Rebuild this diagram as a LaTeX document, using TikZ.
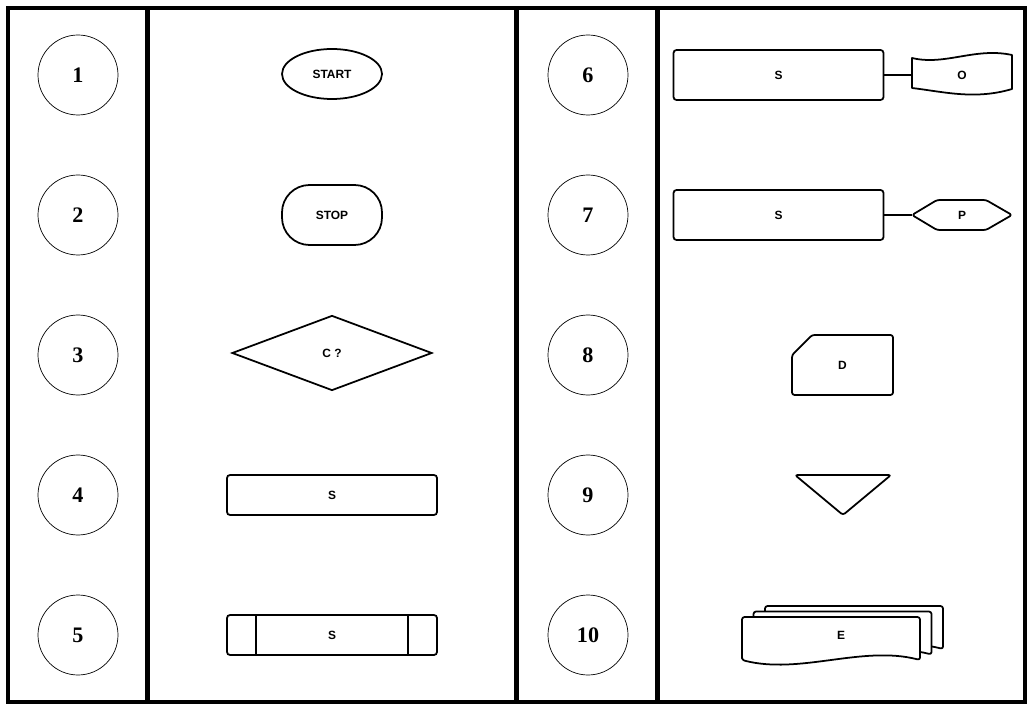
\documentclass[tikz,border=0pt]{standalone}
\usepackage{fontspec}
\setmainfont{Liberation Serif}
\newfontfamily\lblfont{Liberation Sans}
\usetikzlibrary{shapes.geometric}

\begin{document}
\begin{tikzpicture}[x=0.2mm,y=-0.2mm,
      frame/.style={line width=0.85mm},
      num/.style={circle,draw,line width=0.4pt,minimum size=16mm,inner sep=0pt,font=\fontsize{12.6}{14}\selectfont\bfseries},
      lbl/.style={inner sep=0pt,font=\lblfont\fontsize{6.8}{8}\selectfont\bfseries},
      sym/.style={lbl,draw,line width=1pt},
      outline/.style={line width=1pt,rounded corners=0.5mm,line join=round},
      proc/.style={sym,rectangle,rounded corners=0.6mm,minimum width=42mm,minimum height=8mm},
      link/.style={line width=0.8pt}
    ]
      \useasboundingbox (0,0) rectangle (1035,713);
      \draw[frame] (8,8) rectangle (1025,702);
      \foreach \x in {147.5,516.5,657.5}
        \draw[frame] (\x,8) -- (\x,702);
      \foreach \n/\y in {1/75,2/215,3/355,4/495,5/635}
        \node[num] (num\n) at (78,\y) {\n};
      \foreach \n/\y in {6/75,7/215,8/355,9/495,10/635}
        \node[num] (num\n) at (588,\y) {\n};
      % left column of symbols
      \node[sym,ellipse,minimum width=20mm,minimum height=10mm] (start) at (332,74) {START};
      \node[sym,rectangle,rounded corners=5.5mm,minimum width=20mm,minimum height=12mm] (stop) at (332,215) {STOP};
      \node[sym,diamond,aspect=2.67,minimum width=40mm,minimum height=15mm] (cond) at (332,353) {C ?};
      \node[proc] (sub) at (332,495) {S};
      \node[proc] (predef) at (332,635) {S};
      \draw[link] ([xshift=6mm]predef.north west) -- ([xshift=6mm]predef.south west);
      \draw[link] ([xshift=-6mm]predef.north east) -- ([xshift=-6mm]predef.south east);
      % right column of symbols
      \node[proc,minimum height=10mm] (subout) at (778.5,75) {S};
      \node[lbl,minimum width=20mm,minimum height=6mm] (tape) at (962,75) {O};
      \draw[outline,sharp corners] (912,58) .. controls (945,66) and (975,47) .. (1012,55) -- (1012,89)
        .. controls (975,100) and (945,92) .. (912,88) -- cycle;
      \draw[link] (subout) -- (tape);
      \node[proc,minimum height=10mm] (subprep) at (778.5,215) {S};
      \node[lbl,minimum width=20mm,minimum height=6mm] (prep) at (962,215) {P};
      \draw[outline] (912,215) -- (937,200) -- (986,200) -- (1012,215) -- (986,230) -- (937,230) -- cycle;
      \draw[link] (subprep) -- (prep);
      \node[lbl,minimum width=20.2mm,minimum height=12mm] (card) at (842.5,365) {D};
      \draw[outline] (792,355) -- (812,335) -- (893,335) -- (893,395) -- (792,395) -- cycle;
      \draw[outline] (795,475) -- (891,475) -- (843,515) -- cycle;
      \foreach \dx/\dy in {23/-11,11.5/-5.5,0/0}
        \draw[outline,fill=white,shift={(\dx,\dy)}] (742,660) -- (742,617) -- (920,617) -- (920,660)
          .. controls (862,645) and (800,675) .. (742,660) -- cycle;
      \node[lbl] (docs) at (841,635) {E};
    \end{tikzpicture}
\end{document}
